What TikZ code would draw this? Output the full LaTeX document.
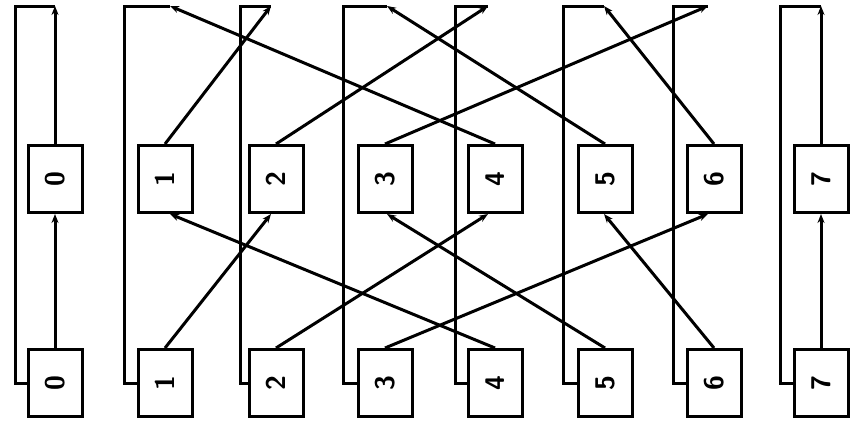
\documentclass[tikz,border=0pt]{standalone}
\usetikzlibrary{arrows.meta}
\begin{document}
\begin{tikzpicture}[x=1pt,y=-1pt,
  box/.style={draw, line width=3pt, minimum width=54pt, minimum height=67pt, inner sep=0pt,
    font=\fontsize{27}{27}\selectfont\sffamily\bfseries},
  wire/.style={line width=3pt, line join=miter},
  arr/.style={line width=3pt, -{Stealth[length=9pt,width=7pt]}}]
\useasboundingbox (0,0) rectangle (850,423);
\foreach \i/\cx/\wx/\px in {0/55/15/55, 1/165/124/170, 2/276/240/271, 3/385/343/387, 4/495/455/488, 5/605/563/604, 6/714/673/708, 7/821/780/821} {
  \node[box] (T\i) at (\cx,179) {\rotatebox{90}{\i}};
  \node[box] (B\i) at (\cx,383) {\rotatebox{90}{\i}};
  \coordinate (W\i) at (\wx,6);
  \coordinate (P\i) at (\px,6);
  \coordinate (Q\i) at (T\i.south -| P\i);
}
% feedback wires from bottom boxes to top outputs
\foreach \j in {0,...,7} {
  \draw[wire] (B\j.west) -- (W\j |- B\j.west) -- (W\j) -- (P\j);
}
% perfect shuffle, both stages
\foreach \i/\j in {0/0,1/2,2/4,3/6,4/1,5/3,6/5,7/7} {
  \draw[arr] (T\i.north) -- (P\j);
  \draw[arr] (B\i.north) -- (Q\j);
}
\end{tikzpicture}
\end{document}
